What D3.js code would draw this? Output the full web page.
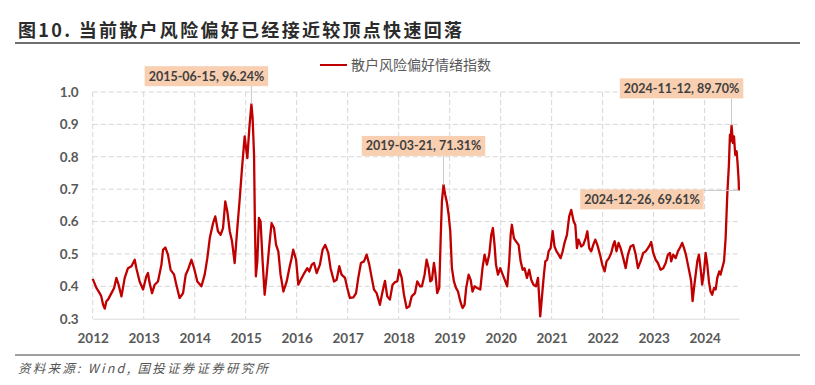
<!DOCTYPE html>
<html>
<head>
<meta charset="utf-8">
<script src="https://cdn.jsdelivr.net/npm/d3@7"></script>
<style>
  body { margin: 0; background: #fff; }
  svg { display: block; }
</style>
</head>
<body>
<svg id="chart"></svg>
<script>
// trading-day index along the category axis (labels every 250 days)
const dayIdx = [
  0, 18, 34, 42, 51, 59, 67, 75, 92, 105, 116, 127, 141, 157, 173, 190, 206, 214, 230, 247,
  263, 271, 279, 291, 304, 320, 337, 345, 356, 369, 382, 399, 410, 426, 443, 456, 467, 484, 497, 513,
  533, 549, 562, 574, 590, 601, 614, 627, 639, 650, 660, 672, 683, 696, 709, 721, 732, 745, 758, 768,
  778, 784, 791, 795, 800, 807, 815, 823, 833, 843, 853, 866, 877, 889, 899, 910, 921, 935, 951, 964,
  975, 983, 997, 1008, 1020, 1033, 1052, 1062, 1074, 1085, 1098, 1114, 1127, 1140, 1155, 1166, 1183, 1196, 1209, 1220,
  1237, 1248, 1261, 1278, 1291, 1302, 1315, 1330, 1343, 1356, 1368, 1379, 1392, 1408, 1421, 1433, 1444, 1457, 1470, 1482,
  1493, 1503, 1515, 1526, 1539, 1552, 1564, 1580, 1591, 1605, 1614, 1627, 1637, 1647, 1655, 1663, 1673, 1679, 1689, 1699,
  1706, 1712, 1720, 1728, 1737, 1745, 1753, 1761, 1771, 1781, 1791, 1802, 1813, 1823, 1831, 1843, 1853, 1862, 1872, 1885,
  1900, 1911, 1921, 1933, 1944, 1954, 1962, 1970, 1977, 1987, 1998, 2010, 2023, 2032, 2042, 2049, 2055, 2065, 2075, 2088,
  2098, 2108, 2117, 2129, 2140, 2150, 2161, 2173, 2183, 2189, 2194, 2202, 2212, 2219, 2228, 2235, 2245, 2255, 2264, 2274,
  2284, 2294, 2304, 2313, 2325, 2336, 2346, 2358, 2366, 2374, 2382, 2395, 2405, 2417, 2425, 2434, 2444, 2454, 2464, 2474,
  2487, 2498, 2510, 2519, 2531, 2542, 2552, 2559, 2568, 2578, 2588, 2601, 2613, 2624, 2637, 2650, 2662, 2673, 2686, 2699,
  2711, 2722, 2732, 2738, 2748, 2760, 2771, 2784, 2797, 2809, 2820, 2830, 2836, 2846, 2858, 2869, 2882, 2890, 2899, 2908,
  2918, 2928, 2934, 2941, 2948, 2956, 2964, 2972, 2980, 2988, 2997, 3005, 3013, 3021, 3029, 3037, 3046, 3054, 3062, 3072,
  3078, 3086, 3095, 3103, 3111, 3119, 3124, 3127, 3132, 3139, 3144, 3150, 3157, 3162, 3167, 3168
];
const sentiment = [
  0.423, 0.395, 0.379, 0.369, 0.343, 0.331, 0.354, 0.359, 0.379, 0.395, 0.426, 0.405, 0.369, 0.426, 0.456, 0.462, 0.482, 0.456, 0.415, 0.390,
  0.431, 0.441, 0.410, 0.379, 0.405, 0.415, 0.467, 0.513, 0.520, 0.498, 0.451, 0.436, 0.405, 0.364, 0.379, 0.436, 0.451, 0.482, 0.456, 0.415,
  0.400, 0.436, 0.487, 0.549, 0.595, 0.616, 0.570, 0.559, 0.580, 0.662, 0.631, 0.570, 0.539, 0.472, 0.580, 0.672, 0.765, 0.863, 0.796, 0.889,
  0.9624, 0.919, 0.806, 0.600, 0.431, 0.477, 0.611, 0.600, 0.477, 0.374, 0.436, 0.528, 0.595, 0.580, 0.528, 0.508, 0.436, 0.384, 0.415, 0.456,
  0.487, 0.513, 0.482, 0.405, 0.420, 0.436, 0.456, 0.446, 0.467, 0.472, 0.441, 0.467, 0.513, 0.528, 0.503, 0.456, 0.415, 0.420, 0.462, 0.436,
  0.426, 0.395, 0.364, 0.366, 0.379, 0.426, 0.472, 0.477, 0.498, 0.467, 0.426, 0.390, 0.379, 0.343, 0.384, 0.417, 0.369, 0.359, 0.405, 0.413,
  0.415, 0.451, 0.426, 0.374, 0.333, 0.338, 0.369, 0.379, 0.415, 0.400, 0.400, 0.436, 0.482, 0.456, 0.415, 0.420, 0.472, 0.446, 0.379, 0.395,
  0.549, 0.662, 0.7131, 0.683, 0.657, 0.621, 0.570, 0.456, 0.415, 0.395, 0.384, 0.354, 0.333, 0.343, 0.395, 0.436, 0.420, 0.384, 0.400, 0.395,
  0.390, 0.456, 0.498, 0.467, 0.498, 0.559, 0.580, 0.528, 0.467, 0.436, 0.456, 0.436, 0.415, 0.400, 0.477, 0.559, 0.590, 0.549, 0.539, 0.528,
  0.477, 0.451, 0.456, 0.426, 0.451, 0.420, 0.405, 0.400, 0.426, 0.364, 0.307, 0.364, 0.436, 0.477, 0.482, 0.508, 0.518, 0.570, 0.523, 0.508,
  0.498, 0.487, 0.508, 0.534, 0.559, 0.616, 0.636, 0.600, 0.590, 0.518, 0.544, 0.523, 0.528, 0.549, 0.570, 0.518, 0.508, 0.528, 0.544, 0.528,
  0.498, 0.467, 0.446, 0.477, 0.487, 0.503, 0.528, 0.539, 0.508, 0.534, 0.518, 0.487, 0.456, 0.498, 0.523, 0.528, 0.498, 0.456, 0.477, 0.503,
  0.508, 0.518, 0.528, 0.537, 0.503, 0.482, 0.472, 0.451, 0.456, 0.472, 0.498, 0.503, 0.477, 0.498, 0.487, 0.508, 0.523, 0.534, 0.518, 0.498,
  0.467, 0.436, 0.415, 0.354, 0.395, 0.436, 0.477, 0.498, 0.456, 0.405, 0.446, 0.503, 0.467, 0.415, 0.384, 0.374, 0.395, 0.390, 0.426, 0.446,
  0.436, 0.456, 0.477, 0.549, 0.683, 0.775, 0.868, 0.847, 0.8970, 0.842, 0.863, 0.806, 0.817, 0.775, 0.724, 0.6961
];

const yearLabels = ["2012","2013","2014","2015","2016","2017","2018","2019","2020","2021","2022","2023","2024"];
const yTicks = [0.3, 0.4, 0.5, 0.6, 0.7, 0.8, 0.9, 1.0];

// labelled points
const noteDates = ["2015-06-15", "2019-03-21", "2024-11-12", "2024-12-26"];
const noteIdx = [778, 1720, 3132, 3168];
const noteVals = [0.9624, 0.7131, 0.8970, 0.6961];

const W = 815, H = 385;
const svg = d3.select("#chart").attr("width", W).attr("height", H);

const x = d3.scaleLinear().domain([0, 3168]).range([92.7, 738.9]);
const y = d3.scaleLinear().domain([0.3, 1.0]).range([318.7, 92]);

const tickIdx = yearLabels.map((d, i) => i * 250);
const data = dayIdx.map((d, i) => ({i: d, v: sentiment[i]}));

const numFont = "Lato, 'Open Sans', sans-serif";
const cjkFont = "'Noto Sans CJK SC', 'Noto Sans', sans-serif";

// title + rules
svg.append("text")
    .attr("x", 18).attr("y", 37)
    .attr("font-family", cjkFont)
    .attr("font-weight", "bold")
    .attr("font-size", 18)
    .attr("fill", "#2b2b2b")
    .attr("textLength", 444)
    .attr("lengthAdjust", "spacing")
    .text("图10. 当前散户风险偏好已经接近较顶点快速回落");

svg.append("line")
    .attr("x1", 15).attr("x2", 800).attr("y1", 43).attr("y2", 43)
    .style("stroke", "#404040").style("stroke-width", "1.5px");

svg.append("line")
    .attr("x1", 15).attr("x2", 800).attr("y1", 355).attr("y2", 355)
    .style("stroke", "#404040").style("stroke-width", "1px");

svg.append("text")
    .attr("x", 18).attr("y", 373)
    .attr("font-family", cjkFont)
    .attr("font-style", "italic")
    .attr("font-size", 12.5)
    .attr("fill", "#555")
    .attr("textLength", 250)
    .attr("lengthAdjust", "spacing")
    .text("资料来源: Wind, 国投证券证券研究所");

// grid
const grid = svg.append("g");
grid.selectAll(".hg")
    .data(yTicks.filter(d => d > 0.3))
    .join("line")
    .attr("x1", x(0)).attr("x2", x(3168))
    .attr("y1", d => y(d)).attr("y2", d => y(d))
    .style("stroke", "#d6d6d6").style("stroke-width", "1px")
    .style("stroke-dasharray", "5,3");

grid.selectAll(".vg")
    .data(tickIdx)
    .join("line")
    .attr("x1", d => x(d)).attr("x2", d => x(d))
    .attr("y1", y(1.0)).attr("y2", y(0.3))
    .style("stroke", "#d6d6d6").style("stroke-width", "1px")
    .style("stroke-dasharray", "5,3");

// axes
const xAxis = svg.append("g")
    .attr("transform", `translate(0,${y(0.3)})`)
    .call(d3.axisBottom(x).tickValues(tickIdx).tickSize(0).tickPadding(15)
        .tickFormat((d, i) => yearLabels[i]));
xAxis.select(".domain").style("stroke", "#d9d9d9");
xAxis.selectAll("text")
    .attr("font-family", numFont).attr("font-weight", "bold")
    .attr("font-size", 13.5).attr("fill", "#595959");

const yAxis = svg.append("g")
    .attr("transform", `translate(${x(0)},0)`)
    .call(d3.axisLeft(y).tickValues(yTicks).tickSize(0).tickPadding(14)
        .tickFormat(d3.format(".1f")));
yAxis.select(".domain").remove();
yAxis.selectAll("text")
    .attr("font-family", numFont).attr("font-weight", "bold")
    .attr("font-size", 13.5).attr("fill", "#595959");

// series
const line = d3.line().x(d => x(d.i)).y(d => y(d.v));
svg.append("path")
    .datum(data)
    .attr("d", line)
    .attr("fill", "none")
    .style("stroke", "#c00000")
    .style("stroke-width", "2.3px")
    .style("stroke-linejoin", "round");

// legend
svg.append("line")
    .attr("x1", 320).attr("x2", 347).attr("y1", 65).attr("y2", 65)
    .style("stroke", "#c00000").style("stroke-width", "2px");
svg.append("text")
    .attr("x", 351).attr("y", 70)
    .attr("font-family", cjkFont)
    .attr("font-size", 14)
    .attr("fill", "#595959")
    .text("散户风险偏好情绪指数");

// callouts
const offsets = [[-45, -28], [-20, -39], [-50, -37], [-97, 9]];
const notes = noteDates.map((d, i) => ({
    label: `${d}, ${(noteVals[i] * 100).toFixed(2)}%`,
    px: x(noteIdx[i]), py: y(noteVals[i]),
    cx: x(noteIdx[i]) + offsets[i][0], cy: y(noteVals[i]) + offsets[i][1]
}));

const ng = svg.append("g");
notes.forEach(n => {
    const g = ng.append("g");
    const t = g.append("text")
        .attr("x", n.cx).attr("y", n.cy + 4.5)
        .attr("text-anchor", "middle")
        .attr("font-family", numFont).attr("font-weight", "bold")
        .attr("font-size", 12.5).attr("fill", "#404040")
        .text(n.label);
    const bb = t.node().getBBox();
    const bx = bb.x - 4, by = n.cy - 10, bw = bb.width + 8, bh = 20;
    // leader line from nearest box edge to the point
    const ex = Math.max(bx, Math.min(n.px, bx + bw));
    const ey = n.py > by + bh ? by + bh : (n.py < by ? by : n.py);
    g.insert("line", "text")
        .attr("x1", ex).attr("y1", ey).attr("x2", n.px).attr("y2", n.py)
        .style("stroke", "#c8c8c8").style("stroke-width", "1px");
    g.insert("rect", "text")
        .attr("x", bx).attr("y", by).attr("width", bw).attr("height", bh)
        .attr("fill", "#f8cfb1");
});
</script>
</body>
</html>
